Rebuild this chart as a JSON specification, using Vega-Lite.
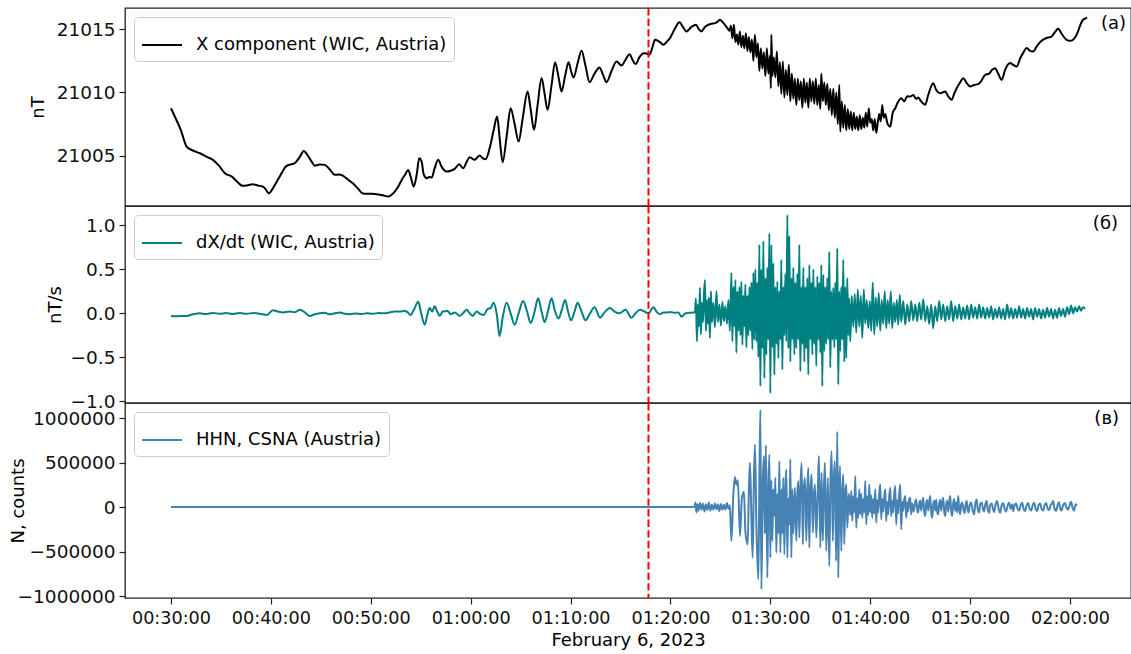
{
"$schema": "https://vega.github.io/schema/vega-lite/v6.json",
"background": "white",
"padding": {"left": 8, "top": 6, "right": 0, "bottom": 0},
"spacing": 0,
"bounds": "flush",
"datasets": {
"ev": [{"m": 77.8}],
"lab": [{"p": 1, "m": 125.6, "v": 21015.4, "t": "(а)"}, {"p": 2, "m": 124.8, "v": 1.02, "t": "(б)"}, {"p": 3, "m": 124.9, "v": 990000, "t": "(в)"}],
"p1": [
{"m":30.0,"v":21008.75},{"m":30.5,"v":21007.9},{"m":31.0,"v":21007.0},{"m":31.57,"v":21005.71},{"m":32.2,"v":21005.4},{"m":32.9,"v":21005.18},{"m":33.6,"v":21004.9},{"m":34.2,"v":21004.66},{"m":34.8,"v":21004.2},{"m":35.4,"v":21003.6},{"m":36.1,"v":21003.33},{"m":36.6,"v":21002.95},{"m":37.2,"v":21002.6},{"m":37.7,"v":21002.65},{"m":38.2,"v":21002.72},{"m":38.7,"v":21002.62},{"m":39.2,"v":21002.54},{"m":39.5,"v":21002.3},{"m":39.8,"v":21002.0},{"m":40.2,"v":21002.4},{"m":40.6,"v":21002.94},{"m":41.0,"v":21003.5},{"m":41.5,"v":21004.13},{"m":42.0,"v":21004.3},{"m":42.4,"v":21004.4},{"m":42.9,"v":21004.9},{"m":43.3,"v":21005.37},{"m":43.7,"v":21005.0},{"m":44.1,"v":21004.5},{"m":44.4,"v":21004.2},{"m":44.9,"v":21004.3},{"m":45.4,"v":21004.26},{"m":45.9,"v":21003.9},{"m":46.4,"v":21003.47},{"m":46.8,"v":21003.5},{"m":47.2,"v":21003.41},{"m":47.7,"v":21003.1},{"m":48.2,"v":21002.8},{"m":48.7,"v":21002.4},{"m":49.2,"v":21002.0},{"m":49.9,"v":21001.97},{"m":50.6,"v":21001.93},{"m":51.2,"v":21001.85},{"m":51.75,"v":21001.75},{"m":52.1,"v":21001.9},{"m":52.4,"v":21002.14},{"m":52.8,"v":21002.6},{"m":53.1,"v":21003.07},{"m":53.45,"v":21003.5},{"m":53.75,"v":21003.86},{"m":54.0,"v":21003.3},{"m":54.3,"v":21002.54},{"m":54.6,"v":21003.5},{"m":54.85,"v":21004.79},{"m":55.1,"v":21004.5},{"m":55.3,"v":21003.5},{"m":55.6,"v":21003.2},{"m":55.85,"v":21003.3},{"m":56.1,"v":21003.25},{"m":56.4,"v":21004.0},{"m":56.75,"v":21004.66},{"m":57.1,"v":21004.1},{"m":57.6,"v":21003.73},{"m":58.0,"v":21003.8},{"m":58.4,"v":21003.94},{"m":58.85,"v":21004.31},{"m":59.25,"v":21004.0},{"m":59.6,"v":21004.5},{"m":59.9,"v":21004.87},{"m":60.4,"v":21004.66},{"m":60.9,"v":21005.0},{"m":61.2,"v":21004.8},{"m":61.5,"v":21004.71},{"m":61.9,"v":21005.58},{"m":62.3,"v":21007.0},{"m":62.65,"v":21008.1},{"m":62.9,"v":21006.4},{"m":63.2,"v":21004.47},{"m":63.6,"v":21006.5},{"m":64.0,"v":21008.75},{"m":64.4,"v":21007.5},{"m":64.8,"v":21006.11},{"m":65.2,"v":21007.9},{"m":65.7,"v":21010.08},{"m":66.0,"v":21008.7},{"m":66.35,"v":21007.04},{"m":66.7,"v":21009.0},{"m":67.1,"v":21011.14},{"m":67.4,"v":21009.9},{"m":67.7,"v":21008.63},{"m":68.1,"v":21010.6},{"m":68.45,"v":21012.4},{"m":68.8,"v":21011.2},{"m":69.1,"v":21010.08},{"m":69.45,"v":21011.3},{"m":69.8,"v":21012.4},{"m":70.05,"v":21011.7},{"m":70.3,"v":21011.19},{"m":70.7,"v":21012.3},{"m":71.1,"v":21013.31},{"m":71.5,"v":21012.1},{"m":71.9,"v":21010.82},{"m":72.4,"v":21011.5},{"m":72.9,"v":21011.98},{"m":73.25,"v":21011.4},{"m":73.6,"v":21010.82},{"m":74.1,"v":21011.7},{"m":74.6,"v":21012.46},{"m":75.1,"v":21012.14},{"m":75.5,"v":21012.6},{"m":75.9,"v":21013.04},{"m":76.2,"v":21012.6},{"m":76.5,"v":21012.25},{"m":76.9,"v":21012.8},{"m":77.3,"v":21013.12},{"m":77.6,"v":21013.1},{"m":77.9,"v":21013.0},{"m":78.2,"v":21013.6},{"m":78.45,"v":21014.18},{"m":78.95,"v":21014.0},{"m":79.3,"v":21013.78},{"m":79.6,"v":21014.0},{"m":79.95,"v":21014.31},{"m":80.4,"v":21015.0},{"m":80.9,"v":21015.58},{"m":81.25,"v":21015.2},{"m":81.6,"v":21014.84},{"m":82.1,"v":21015.2},{"m":82.55,"v":21015.37},{"m":82.85,"v":21015.0},{"m":83.1,"v":21014.84},{"m":83.45,"v":21015.2},{"m":83.8,"v":21015.37},{"m":84.1,"v":21015.45},{"m":84.45,"v":21015.5},{"m":84.7,"v":21015.6},{"m":84.95,"v":21015.77},{"m":85.2,"v":21015.6},{"m":85.45,"v":21015.37},
{"m":85.7,"v":21015.1},{"m":85.9,"v":21014.9},{"m":86.05,"v":21015.3},{"m":86.2,"v":21014.3},{"m":86.35,"v":21015.37},{"m":86.5,"v":21014.0},{"m":86.65,"v":21014.6},{"m":86.8,"v":21013.8},{"m":86.95,"v":21014.84},{"m":87.1,"v":21013.6},{"m":87.25,"v":21014.5},{"m":87.4,"v":21013.5},{"m":87.55,"v":21014.7},{"m":87.7,"v":21013.3},{"m":87.85,"v":21014.4},{"m":88.0,"v":21013.2},{"m":88.15,"v":21014.2},{"m":88.3,"v":21012.5},{"m":88.45,"v":21014.58},{"m":88.6,"v":21012.8},{"m":88.75,"v":21013.9},{"m":88.9,"v":21011.7},{"m":89.05,"v":21013.5},{"m":89.2,"v":21011.9},{"m":89.35,"v":21013.2},{"m":89.5,"v":21011.3},{"m":89.65,"v":21013.5},{"m":89.8,"v":21011.5},{"m":89.95,"v":21012.9},{"m":90.05,"v":21010.34},{"m":90.1,"v":21014.58},{"m":90.2,"v":21011.3},{"m":90.35,"v":21012.8},{"m":90.5,"v":21011.2},{"m":90.65,"v":21013.25},{"m":90.8,"v":21010.5},{"m":90.95,"v":21012.4},{"m":91.1,"v":21009.9},{"m":91.25,"v":21012.46},{"m":91.4,"v":21009.6},{"m":91.55,"v":21011.8},{"m":91.7,"v":21009.8},{"m":91.85,"v":21012.2},{"m":92.0,"v":21009.3},{"m":92.15,"v":21011.5},{"m":92.3,"v":21009.5},{"m":92.45,"v":21011.1},{"m":92.6,"v":21009.0},{"m":92.75,"v":21011.1},{"m":92.9,"v":21009.4},{"m":93.05,"v":21010.9},{"m":93.2,"v":21008.8},{"m":93.35,"v":21011.1},{"m":93.5,"v":21009.2},{"m":93.65,"v":21010.8},{"m":93.8,"v":21008.8},{"m":93.95,"v":21011.1},{"m":94.1,"v":21009.3},{"m":94.25,"v":21010.9},{"m":94.4,"v":21009.1},{"m":94.55,"v":21011.1},{"m":94.7,"v":21009.0},{"m":94.85,"v":21010.6},{"m":95.0,"v":21008.7},{"m":95.1,"v":21011.5},{"m":95.25,"v":21009.3},{"m":95.4,"v":21010.8},{"m":95.55,"v":21009.0},{"m":95.7,"v":21010.7},{"m":95.85,"v":21008.6},{"m":96.0,"v":21010.3},{"m":96.15,"v":21008.2},{"m":96.3,"v":21010.3},{"m":96.45,"v":21008.0},{"m":96.6,"v":21010.0},{"m":96.75,"v":21007.5},{"m":96.9,"v":21010.6},{"m":97.0,"v":21006.9},{"m":97.15,"v":21009.3},{"m":97.3,"v":21007.2},{"m":97.45,"v":21009.0},{"m":97.6,"v":21007.0},{"m":97.75,"v":21008.7},{"m":97.9,"v":21007.1},{"m":98.05,"v":21008.5},{"m":98.2,"v":21007.0},{"m":98.35,"v":21008.4},{"m":98.5,"v":21007.1},{"m":98.65,"v":21008.1},{"m":98.8,"v":21007.0},{"m":98.95,"v":21008.2},{"m":99.1,"v":21007.1},{"m":99.25,"v":21008.0},{"m":99.4,"v":21007.2},{"m":99.55,"v":21008.4},{"m":99.7,"v":21007.3},{"m":99.85,"v":21008.75},{"m":100.0,"v":21007.6},{"m":100.15,"v":21007.9},{"m":100.3,"v":21007.0},{"m":100.45,"v":21007.9},{"m":100.6,"v":21006.8},{"m":100.75,"v":21007.6},{"m":100.9,"v":21008.3},{"m":101.05,"v":21007.7},{"m":101.2,"v":21009.0},{"m":101.35,"v":21008.0},{"m":101.5,"v":21008.3},{"m":101.7,"v":21007.6},{"m":102.0,"v":21007.3},
{"m":102.25,"v":21008.4},{"m":102.5,"v":21008.75},{"m":102.75,"v":21009.2},{"m":103.1,"v":21009.55},{"m":103.4,"v":21009.3},{"m":103.7,"v":21009.7},{"m":104.0,"v":21009.68},{"m":104.3,"v":21009.8},{"m":104.6,"v":21009.5},{"m":104.8,"v":21009.6},{"m":105.1,"v":21009.3},{"m":105.5,"v":21009.02},{"m":105.8,"v":21009.8},{"m":106.3,"v":21010.74},{"m":106.6,"v":21010.2},{"m":107.0,"v":21009.95},{"m":107.5,"v":21010.08},{"m":107.8,"v":21009.7},{"m":108.15,"v":21009.42},{"m":108.4,"v":21009.9},{"m":108.65,"v":21010.34},{"m":109.0,"v":21010.8},{"m":109.3,"v":21011.13},{"m":109.7,"v":21010.7},{"m":110.0,"v":21010.48},{"m":110.4,"v":21010.6},{"m":110.8,"v":21010.66},{"m":111.1,"v":21010.9},{"m":111.5,"v":21011.4},{"m":111.9,"v":21011.5},{"m":112.2,"v":21011.8},{"m":112.5,"v":21011.93},{"m":112.8,"v":21011.5},{"m":113.15,"v":21011.0},{"m":113.5,"v":21011.8},{"m":114.0,"v":21012.33},{"m":114.3,"v":21012.2},{"m":114.65,"v":21012.06},{"m":115.0,"v":21012.7},{"m":115.35,"v":21013.2},{"m":115.65,"v":21013.52},{"m":116.0,"v":21013.3},{"m":116.3,"v":21013.25},{"m":116.7,"v":21013.7},{"m":117.15,"v":21014.1},{"m":117.6,"v":21014.3},{"m":118.15,"v":21014.44},{"m":118.5,"v":21014.8},{"m":118.8,"v":21015.05},{"m":119.2,"v":21014.6},{"m":119.65,"v":21014.18},{"m":120.0,"v":21014.1},{"m":120.3,"v":21014.18},{"m":120.6,"v":21014.5},{"m":120.8,"v":21014.84},{"m":121.0,"v":21015.3},{"m":121.3,"v":21015.77},{"m":121.5,"v":21015.85},{"m":121.7,"v":21015.95}
],
"p2": [
{"m":30.0,"v":-0.03},{"m":30.5,"v":-0.035},{"m":31.0,"v":-0.03},{"m":31.6,"v":-0.03},{"m":32.2,"v":-0.012},{"m":32.9,"v":0.0},{"m":33.5,"v":-0.008},{"m":34.2,"v":0.004},{"m":34.9,"v":-0.006},{"m":35.5,"v":0.003},{"m":36.2,"v":-0.008},{"m":36.9,"v":0.002},{"m":37.6,"v":-0.006},{"m":38.3,"v":0.004},{"m":38.9,"v":-0.005},{"m":39.6,"v":-0.02},{"m":40.2,"v":0.035},{"m":40.7,"v":0.02},{"m":41.2,"v":0.01},{"m":41.9,"v":0.02},{"m":42.4,"v":0.012},{"m":42.9,"v":0.04},{"m":43.4,"v":0.01},{"m":43.9,"v":-0.03},{"m":44.4,"v":-0.01},{"m":44.9,"v":0.0},{"m":45.4,"v":0.005},{"m":45.9,"v":-0.012},{"m":46.4,"v":0.0},{"m":46.9,"v":0.01},{"m":47.4,"v":-0.005},{"m":47.9,"v":-0.01},{"m":48.5,"v":-0.002},{"m":49.1,"v":-0.008},{"m":49.6,"v":0.0},{"m":50.2,"v":-0.005},{"m":50.8,"v":0.003},{"m":51.3,"v":0.0},{"m":51.9,"v":0.01},{"m":52.4,"v":0.02},{"m":52.9,"v":0.02},{"m":53.4,"v":0.025},{"m":53.7,"v":0.01},{"m":54.0,"v":-0.02},{"m":54.35,"v":0.05},{"m":54.75,"v":0.13},{"m":55.05,"v":0.0},{"m":55.4,"v":-0.13},{"m":55.65,"v":-0.02},{"m":55.9,"v":0.06},{"m":56.15,"v":0.02},{"m":56.4,"v":0.08},{"m":56.65,"v":0.02},{"m":56.9,"v":-0.03},{"m":57.2,"v":0.02},{"m":57.7,"v":0.025},{"m":58.0,"v":-0.01},{"m":58.4,"v":0.01},{"m":58.9,"v":-0.03},{"m":59.3,"v":0.01},{"m":59.6,"v":0.04},{"m":59.9,"v":0.0},{"m":60.2,"v":-0.03},{"m":60.6,"v":0.02},{"m":61.0,"v":-0.01},{"m":61.3,"v":-0.02},{"m":61.7,"v":0.05},{"m":62.0,"v":0.06},{"m":62.3,"v":0.12},{"m":62.6,"v":0.0},{"m":62.9,"v":-0.26},{"m":63.2,"v":-0.05},{"m":63.6,"v":0.12},{"m":64.0,"v":0.0},{"m":64.4,"v":-0.13},{"m":64.8,"v":0.0},{"m":65.25,"v":0.14},{"m":65.65,"v":0.02},{"m":66.0,"v":-0.11},{"m":66.4,"v":0.02},{"m":66.75,"v":0.17},{"m":67.1,"v":0.02},{"m":67.4,"v":-0.1},{"m":67.75,"v":0.03},{"m":68.1,"v":0.17},{"m":68.45,"v":0.02},{"m":68.8,"v":-0.06},{"m":69.1,"v":0.03},{"m":69.45,"v":0.15},{"m":69.75,"v":0.02},{"m":70.05,"v":-0.08},{"m":70.4,"v":0.02},{"m":70.7,"v":0.12},{"m":71.1,"v":0.02},{"m":71.5,"v":-0.08},{"m":71.95,"v":0.0},{"m":72.4,"v":0.07},{"m":72.95,"v":-0.05},{"m":73.4,"v":0.01},{"m":73.95,"v":0.06},{"m":74.4,"v":0.02},{"m":74.9,"v":0.0},{"m":75.5,"v":0.04},{"m":76.1,"v":-0.05},{"m":76.5,"v":0.0},{"m":76.95,"v":0.04},{"m":77.4,"v":0.02},{"m":77.8,"v":0.0},{"m":78.3,"v":0.07},{"m":78.6,"v":0.02},{"m":78.95,"v":-0.01},{"m":79.3,"v":0.01},{"m":79.6,"v":0.01},{"m":80.0,"v":0.015},{"m":80.4,"v":0.005},{"m":80.8,"v":0.01},{"m":81.1,"v":-0.04},{"m":81.5,"v":0.0},{"m":81.9,"v":0.005},{"m":82.3,"v":0.01},
{"m":82.45,"v":0.01},{"m":82.55,"v":0.17},{"m":82.65,"v":-0.32},{"m":82.75,"v":0.1},{"m":82.85,"v":-0.15},{"m":82.95,"v":0.29},{"m":83.05,"v":-0.24},{"m":83.15,"v":0.12},{"m":83.25,"v":-0.1},{"m":83.35,"v":0.2},{"m":83.45,"v":0.38},{"m":83.55,"v":-0.2},{"m":83.65,"v":0.15},{"m":83.75,"v":-0.12},{"m":83.85,"v":0.18},{"m":83.95,"v":-0.28},{"m":84.05,"v":0.25},{"m":84.15,"v":-0.1},{"m":84.3,"v":0.12},{"m":84.45,"v":-0.16},{"m":84.6,"v":0.25},{"m":84.75,"v":-0.1},{"m":84.9,"v":0.1},{"m":85.05,"v":-0.14},{"m":85.2,"v":0.13},{"m":85.35,"v":-0.09},{"m":85.5,"v":0.08},{"m":85.65,"v":-0.12},{"m":85.8,"v":0.15},{"m":85.95,"v":-0.2},{"m":86.1,"v":0.46},{"m":86.2,"v":-0.32},{"m":86.3,"v":0.3},{"m":86.4,"v":-0.15},{"m":86.5,"v":0.38},{"m":86.6,"v":-0.45},{"m":86.7,"v":0.25},{"m":86.8,"v":-0.2},{"m":86.9,"v":0.3},{"m":87.0,"v":-0.25},{"m":87.1,"v":0.36},{"m":87.2,"v":-0.36},{"m":87.3,"v":0.2},{"m":87.4,"v":-0.15},{"m":87.5,"v":0.33},{"m":87.6,"v":-0.39},{"m":87.7,"v":0.2},{"m":87.8,"v":-0.25},{"m":87.9,"v":0.3},{"m":88.0,"v":-0.2},{"m":88.1,"v":0.35},{"m":88.2,"v":-0.41},{"m":88.3,"v":0.46},{"m":88.4,"v":-0.3},{"m":88.5,"v":0.5},{"m":88.6,"v":-0.32},{"m":88.7,"v":0.35},{"m":88.8,"v":-0.5},{"m":88.9,"v":0.78},{"m":89.0,"v":-0.83},{"m":89.1,"v":0.5},{"m":89.2,"v":-0.4},{"m":89.3,"v":0.82},{"m":89.4,"v":-0.74},{"m":89.5,"v":0.4},{"m":89.6,"v":-0.47},{"m":89.7,"v":0.52},{"m":89.8,"v":-0.3},{"m":89.9,"v":0.91},{"m":90.0,"v":-0.91},{"m":90.1,"v":0.78},{"m":90.2,"v":-0.39},{"m":90.3,"v":0.57},{"m":90.4,"v":-0.7},{"m":90.5,"v":0.3},{"m":90.6,"v":-0.35},{"m":90.7,"v":0.36},{"m":90.8,"v":-0.51},{"m":90.9,"v":0.25},{"m":91.0,"v":-0.3},{"m":91.1,"v":0.61},{"m":91.2,"v":-0.64},{"m":91.3,"v":0.3},{"m":91.4,"v":-0.25},{"m":91.5,"v":0.45},{"m":91.6,"v":-0.32},{"m":91.7,"v":1.12},{"m":91.8,"v":-0.4},{"m":91.9,"v":0.88},{"m":92.0,"v":-0.55},{"m":92.1,"v":0.4},{"m":92.2,"v":-0.3},{"m":92.3,"v":0.52},{"m":92.4,"v":-0.47},{"m":92.5,"v":0.35},{"m":92.6,"v":-0.4},{"m":92.7,"v":0.45},{"m":92.8,"v":-0.3},{"m":92.9,"v":0.78},{"m":93.0,"v":-0.66},{"m":93.1,"v":0.3},{"m":93.2,"v":-0.35},{"m":93.3,"v":0.52},{"m":93.4,"v":-0.55},{"m":93.5,"v":0.3},{"m":93.6,"v":-0.4},{"m":93.7,"v":0.4},{"m":93.8,"v":-0.7},{"m":93.9,"v":0.55},{"m":94.0,"v":-0.3},{"m":94.1,"v":0.35},{"m":94.2,"v":-0.47},{"m":94.3,"v":0.5},{"m":94.4,"v":-0.35},{"m":94.5,"v":0.3},{"m":94.6,"v":-0.6},{"m":94.7,"v":0.42},{"m":94.8,"v":-0.3},{"m":94.9,"v":0.35},{"m":95.0,"v":-0.45},{"m":95.1,"v":0.55},{"m":95.2,"v":-0.83},{"m":95.3,"v":0.44},{"m":95.4,"v":-0.43},{"m":95.5,"v":0.3},{"m":95.6,"v":-0.35},{"m":95.7,"v":0.4},{"m":95.8,"v":-0.3},{"m":95.9,"v":0.7},{"m":96.0,"v":-0.62},{"m":96.1,"v":0.25},{"m":96.2,"v":-0.3},{"m":96.3,"v":0.29},{"m":96.4,"v":-0.39},{"m":96.5,"v":0.35},{"m":96.6,"v":-0.3},{"m":96.7,"v":0.74},{"m":96.8,"v":-0.81},{"m":96.9,"v":0.25},{"m":97.0,"v":-0.43},{"m":97.1,"v":0.3},{"m":97.2,"v":-0.3},{"m":97.3,"v":0.61},{"m":97.4,"v":-0.55},{"m":97.5,"v":0.3},{"m":97.6,"v":-0.51},{"m":97.7,"v":0.4},{"m":97.8,"v":-0.25},{"m":97.9,"v":0.17},{"m":98.0,"v":-0.32},{"m":98.15,"v":0.2},{"m":98.3,"v":-0.15},{"m":98.45,"v":0.22},{"m":98.6,"v":-0.22},{"m":98.75,"v":0.27},{"m":98.9,"v":-0.15},{"m":99.05,"v":0.2},{"m":99.2,"v":-0.28},{"m":99.35,"v":0.27},{"m":99.5,"v":-0.12},{"m":99.65,"v":0.15},{"m":99.8,"v":-0.17},{"m":99.95,"v":0.14},{"m":100.1,"v":-0.2},{"m":100.25,"v":0.35},{"m":100.4,"v":-0.24},{"m":100.55,"v":0.18},{"m":100.7,"v":-0.15},{"m":100.85,"v":0.23},{"m":101.0,"v":-0.2},{"m":101.15,"v":0.15},{"m":101.3,"v":-0.12},{"m":101.45,"v":0.25},{"m":101.6,"v":-0.17},{"m":101.75,"v":0.15},{"m":101.9,"v":-0.12},{"m":102.05,"v":0.25},{"m":102.2,"v":-0.17},{"m":102.35,"v":0.12},{"m":102.5,"v":-0.1},{"m":102.65,"v":0.15},{"m":102.8,"v":-0.13},{"m":102.95,"v":0.21},{"m":103.1,"v":-0.1},{"m":103.3,"v":0.14},{"m":103.5,"v":-0.13},{"m":103.7,"v":0.1},{"m":103.9,"v":-0.09},{"m":104.1,"v":0.14},{"m":104.3,"v":-0.08},{"m":104.5,"v":0.1},{"m":104.7,"v":-0.09},{"m":104.9,"v":0.12},{"m":105.1,"v":-0.07},{"m":105.3,"v":0.16},{"m":105.5,"v":-0.09},{"m":105.7,"v":0.08},{"m":105.9,"v":-0.12},{"m":106.1,"v":0.1},{"m":106.3,"v":-0.17},{"m":106.5,"v":0.08},{"m":106.7,"v":-0.09},{"m":106.9,"v":0.14},{"m":107.1,"v":-0.07},{"m":107.3,"v":0.1},{"m":107.5,"v":-0.09},{"m":107.7,"v":0.08},{"m":107.9,"v":-0.07},{"m":108.1,"v":0.14},{"m":108.3,"v":-0.09},{"m":108.5,"v":0.08},{"m":108.7,"v":-0.06},{"m":108.9,"v":0.1},{"m":109.1,"v":-0.07},{"m":109.3,"v":0.07},{"m":109.5,"v":-0.06},{"m":109.7,"v":0.09},{"m":109.9,"v":-0.07},{"m":110.1,"v":0.1},{"m":110.3,"v":-0.05},{"m":110.5,"v":0.07},{"m":110.7,"v":-0.06},{"m":110.9,"v":0.1},{"m":111.1,"v":-0.05},{"m":111.3,"v":0.07},{"m":111.5,"v":-0.06},{"m":111.7,"v":0.06},{"m":111.9,"v":-0.05},{"m":112.1,"v":0.08},{"m":112.3,"v":-0.07},{"m":112.5,"v":0.05},{"m":112.7,"v":-0.05},{"m":112.9,"v":0.07},{"m":113.1,"v":-0.06},{"m":113.3,"v":0.05},{"m":113.5,"v":-0.07},{"m":113.7,"v":0.1},{"m":113.9,"v":-0.05},{"m":114.1,"v":0.06},{"m":114.3,"v":-0.06},{"m":114.5,"v":0.05},{"m":114.7,"v":-0.05},{"m":114.9,"v":0.08},{"m":115.1,"v":-0.05},{"m":115.3,"v":0.05},{"m":115.5,"v":-0.06},{"m":115.7,"v":0.06},{"m":115.9,"v":-0.04},{"m":116.1,"v":0.05},{"m":116.3,"v":-0.07},{"m":116.5,"v":0.06},{"m":116.7,"v":-0.04},{"m":116.9,"v":0.05},{"m":117.1,"v":-0.06},{"m":117.3,"v":0.04},{"m":117.5,"v":-0.05},{"m":117.7,"v":0.06},{"m":117.9,"v":-0.04},{"m":118.1,"v":0.05},{"m":118.3,"v":-0.06},{"m":118.5,"v":0.04},{"m":118.7,"v":-0.05},{"m":118.9,"v":0.06},{"m":119.1,"v":-0.03},{"m":119.3,"v":0.05},{"m":119.5,"v":-0.04},{"m":119.7,"v":0.07},{"m":119.9,"v":-0.01},{"m":120.1,"v":0.09},{"m":120.3,"v":0.0},{"m":120.5,"v":0.07},{"m":120.7,"v":0.02},{"m":120.9,"v":0.08},{"m":121.1,"v":0.03},{"m":121.3,"v":0.07},{"m":121.5,"v":0.05}
],
"p3": [
{"m":30.0,"v":0},{"m":82.4,"v":0},{"m":82.5,"v":50000},{"m":82.6,"v":-60000},{"m":82.7,"v":30000},{"m":82.8,"v":-40000},{"m":82.95,"v":45000},{"m":83.1,"v":-30000},{"m":83.25,"v":40000},{"m":83.4,"v":-50000},{"m":83.55,"v":30000},{"m":83.7,"v":-35000},{"m":83.85,"v":50000},{"m":84.0,"v":-40000},{"m":84.15,"v":25000},{"m":84.3,"v":-30000},{"m":84.45,"v":40000},{"m":84.6,"v":-25000},{"m":84.75,"v":30000},{"m":84.9,"v":-45000},{"m":85.05,"v":35000},{"m":85.2,"v":-30000},{"m":85.35,"v":25000},{"m":85.5,"v":-30000},{"m":85.65,"v":45000},{"m":85.8,"v":-20000},{"m":85.95,"v":20000},{"m":86.1,"v":-382000},{"m":86.3,"v":150000},{"m":86.45,"v":337000},{"m":86.6,"v":250000},{"m":86.75,"v":300000},{"m":86.96,"v":-326000},{"m":87.15,"v":100000},{"m":87.36,"v":172000},{"m":87.5,"v":-280000},{"m":87.73,"v":-420000},{"m":87.85,"v":200000},{"m":87.96,"v":498000},{"m":88.1,"v":-100000},{"m":88.23,"v":-570000},{"m":88.35,"v":300000},{"m":88.46,"v":704000},{"m":88.6,"v":-200000},{"m":88.8,"v":-813000},{"m":88.9,"v":300000},{"m":89.0,"v":1090000},{"m":89.1,"v":-925000},{"m":89.25,"v":300000},{"m":89.36,"v":573000},{"m":89.45,"v":-300000},{"m":89.55,"v":693000},{"m":89.7,"v":-794000},{"m":89.8,"v":200000},{"m":89.9,"v":590000},{"m":90.0,"v":-569000},{"m":90.1,"v":300000},{"m":90.2,"v":-382000},{"m":90.3,"v":200000},{"m":90.4,"v":-100000},{"m":90.5,"v":330000},{"m":90.6,"v":-513000},{"m":90.7,"v":150000},{"m":90.8,"v":-300000},{"m":90.9,"v":517000},{"m":91.0,"v":-513000},{"m":91.1,"v":200000},{"m":91.2,"v":-300000},{"m":91.3,"v":330000},{"m":91.4,"v":-532000},{"m":91.5,"v":200000},{"m":91.6,"v":423000},{"m":91.7,"v":-569000},{"m":91.8,"v":100000},{"m":91.9,"v":-200000},{"m":92.0,"v":536000},{"m":92.1,"v":-569000},{"m":92.2,"v":200000},{"m":92.3,"v":-300000},{"m":92.45,"v":217000},{"m":92.6,"v":-382000},{"m":92.7,"v":150000},{"m":92.8,"v":292000},{"m":92.9,"v":-345000},{"m":93.0,"v":200000},{"m":93.13,"v":498000},{"m":93.25,"v":-420000},{"m":93.35,"v":200000},{"m":93.46,"v":330000},{"m":93.6,"v":-382000},{"m":93.7,"v":200000},{"m":93.8,"v":442000},{"m":93.9,"v":-457000},{"m":94.0,"v":150000},{"m":94.13,"v":367000},{"m":94.25,"v":-288000},{"m":94.35,"v":100000},{"m":94.46,"v":255000},{"m":94.6,"v":-345000},{"m":94.75,"v":200000},{"m":94.86,"v":573000},{"m":95.0,"v":-457000},{"m":95.13,"v":386000},{"m":95.25,"v":-382000},{"m":95.35,"v":150000},{"m":95.46,"v":498000},{"m":95.6,"v":-494000},{"m":95.75,"v":330000},{"m":95.9,"v":-663000},{"m":96.0,"v":200000},{"m":96.13,"v":629000},{"m":96.25,"v":-382000},{"m":96.35,"v":300000},{"m":96.46,"v":517000},{"m":96.58,"v":-607000},{"m":96.7,"v":846000},{"m":96.8,"v":-794000},{"m":96.9,"v":200000},{"m":96.97,"v":461000},{"m":97.1,"v":-494000},{"m":97.2,"v":150000},{"m":97.3,"v":367000},{"m":97.4,"v":-420000},{"m":97.5,"v":150000},{"m":97.6,"v":255000},
{"m":97.7,"v":-232000},{"m":97.85,"v":150000},{"m":98.0,"v":-90000},{"m":98.1,"v":180000},{"m":98.2,"v":-157000},{"m":98.3,"v":120000},{"m":98.4,"v":-60000},{"m":98.5,"v":348000},{"m":98.6,"v":-232000},{"m":98.7,"v":100000},{"m":98.8,"v":-120000},{"m":98.9,"v":199000},{"m":99.0,"v":-80000},{"m":99.1,"v":150000},{"m":99.2,"v":-120000},{"m":99.3,"v":90000},{"m":99.4,"v":-60000},{"m":99.5,"v":292000},{"m":99.6,"v":-195000},{"m":99.7,"v":120000},{"m":99.8,"v":-90000},{"m":99.9,"v":255000},{"m":100.0,"v":-60000},{"m":100.1,"v":130000},{"m":100.2,"v":-120000},{"m":100.3,"v":90000},{"m":100.4,"v":-70000},{"m":100.5,"v":199000},{"m":100.6,"v":-176000},{"m":100.7,"v":80000},{"m":100.8,"v":-60000},{"m":100.9,"v":150000},{"m":101.0,"v":255000},{"m":101.1,"v":-138000},{"m":101.2,"v":90000},{"m":101.3,"v":-50000},{"m":101.4,"v":120000},{"m":101.5,"v":199000},{"m":101.6,"v":-157000},{"m":101.7,"v":60000},{"m":101.8,"v":-80000},{"m":101.9,"v":120000},{"m":102.0,"v":217000},{"m":102.1,"v":-101000},{"m":102.2,"v":70000},{"m":102.3,"v":-60000},{"m":102.4,"v":150000},{"m":102.5,"v":236000},{"m":102.6,"v":-195000},{"m":102.7,"v":80000},{"m":102.8,"v":-70000},{"m":102.9,"v":150000},{"m":103.0,"v":255000},{"m":103.1,"v":-251000},{"m":103.2,"v":60000},{"m":103.3,"v":-40000},{"m":103.4,"v":80000},{"m":103.5,"v":124000},{"m":103.6,"v":-120000},{"m":103.7,"v":50000},{"m":103.8,"v":-50000},{"m":103.9,"v":90000},{"m":104.0,"v":105000},{"m":104.1,"v":-82000},{"m":104.2,"v":40000},{"m":104.35,"v":-50000},{"m":104.5,"v":60000},{"m":104.6,"v":86000},{"m":104.7,"v":-30000},{"m":104.8,"v":-64000},{"m":104.9,"v":40000},{"m":105.0,"v":70000},{"m":105.1,"v":-40000},{"m":105.2,"v":50000},{"m":105.3,"v":105000},{"m":105.4,"v":-50000},{"m":105.5,"v":-101000},{"m":105.6,"v":40000},{"m":105.7,"v":80000},{"m":105.8,"v":-40000},{"m":105.9,"v":50000},{"m":106.0,"v":124000},{"m":106.1,"v":-60000},{"m":106.2,"v":-120000},{"m":106.3,"v":30000},{"m":106.4,"v":70000},{"m":106.5,"v":-40000},{"m":106.6,"v":86000},{"m":106.7,"v":-50000},{"m":106.8,"v":-82000},{"m":106.9,"v":40000},{"m":107.0,"v":80000},{"m":107.1,"v":-40000},{"m":107.2,"v":60000},{"m":107.3,"v":105000},{"m":107.4,"v":-50000},{"m":107.5,"v":-101000},{"m":107.6,"v":30000},{"m":107.7,"v":70000},{"m":107.8,"v":-50000},{"m":107.9,"v":60000},{"m":108.0,"v":124000},{"m":108.1,"v":-50000},{"m":108.2,"v":-101000},{"m":108.3,"v":40000},{"m":108.4,"v":90000},{"m":108.5,"v":-40000},{"m":108.6,"v":50000},{"m":108.7,"v":-60000},{"m":108.8,"v":124000},{"m":108.9,"v":-30000},{"m":109.0,"v":-82000},{"m":109.1,"v":30000},{"m":109.2,"v":50000},{"m":109.35,"v":-40000},{"m":109.45,"v":-70000},{"m":109.55,"v":30000},{"m":109.65,"v":67000},{"m":109.75,"v":-30000},{"m":109.85,"v":-60000},{"m":109.95,"v":20000},{"m":110.1,"v":50000},{"m":110.25,"v":-40000},{"m":110.4,"v":-82000},{"m":110.5,"v":30000},{"m":110.65,"v":86000},{"m":110.75,"v":-20000},{"m":110.9,"v":-60000},{"m":111.0,"v":30000},{"m":111.15,"v":50000},{"m":111.3,"v":-30000},{"m":111.4,"v":-50000},{"m":111.5,"v":20000},{"m":111.65,"v":67000},{"m":111.75,"v":-20000},{"m":111.9,"v":-64000},{"m":112.0,"v":20000},{"m":112.15,"v":40000},{"m":112.3,"v":-30000},{"m":112.4,"v":-55000},{"m":112.55,"v":30000},{"m":112.7,"v":67000},{"m":112.85,"v":-20000},{"m":113.0,"v":-64000},{"m":113.15,"v":20000},{"m":113.3,"v":45000},{"m":113.45,"v":-20000},{"m":113.6,"v":-50000},{"m":113.75,"v":20000},{"m":113.9,"v":48000},{"m":114.05,"v":-20000},{"m":114.2,"v":30000},{"m":114.3,"v":-45000},{"m":114.45,"v":20000},{"m":114.6,"v":40000},{"m":114.75,"v":-20000},{"m":114.9,"v":-40000},{"m":115.05,"v":20000},{"m":115.2,"v":48000},{"m":115.35,"v":-20000},{"m":115.5,"v":-45000},{"m":115.65,"v":20000},{"m":115.8,"v":45000},{"m":115.95,"v":-20000},{"m":116.1,"v":-40000},{"m":116.25,"v":20000},{"m":116.4,"v":48000},{"m":116.55,"v":-20000},{"m":116.7,"v":-45000},{"m":116.85,"v":20000},{"m":117.0,"v":40000},{"m":117.15,"v":-20000},{"m":117.3,"v":-40000},{"m":117.45,"v":20000},{"m":117.6,"v":45000},{"m":117.75,"v":-15000},{"m":117.9,"v":-35000},{"m":118.05,"v":20000},{"m":118.2,"v":40000},{"m":118.3,"v":67000},{"m":118.45,"v":-20000},{"m":118.6,"v":-45000},{"m":118.75,"v":20000},{"m":118.9,"v":55000},{"m":119.0,"v":-10000},{"m":119.15,"v":-40000},{"m":119.3,"v":20000},{"m":119.5,"v":45000},{"m":119.65,"v":-10000},{"m":119.8,"v":-30000},{"m":119.95,"v":20000},{"m":120.1,"v":60000},{"m":120.25,"v":-10000},{"m":120.4,"v":-40000},{"m":120.55,"v":30000},{"m":120.7,"v":20000}
]
},
"vconcat": [
{
"width": 1006, "height": 198,
"encoding": {"x": {"field": "m", "type": "quantitative", "scale": {"domain": [25.4, 126.1], "nice": false, "zero": false}, "axis": null}},
"layer": [
{"data": {"name": "p1"}, "mark": {"type": "line", "strokeWidth": 2, "interpolate": "monotone", "clip": true},
 "encoding": {
  "y": {"field": "v", "type": "quantitative", "scale": {"domain": [21001.0, 21016.7], "nice": false, "zero": false}, "axis": {"values": [21005, 21010, 21015], "format": "d", "title": "nT", "titleX": -87}},
  "color": {"datum": "X component (WIC, Austria)", "type": "nominal", "scale": {"range": ["#000000"]}, "legend": {"title": null, "orient": "top-left", "offset": 9, "padding": 7, "fillColor": "white", "strokeColor": "#cccccc", "cornerRadius": 4, "symbolType": "stroke", "symbolSize": 1600, "symbolStrokeWidth": 2, "labelFontSize": 18, "labelColor": "#000000", "labelOffset": 13, "labelLimit": 500}}}},
{"data": {"name": "ev"}, "mark": {"type": "rule", "color": "#ff0000", "strokeDash": [7.4, 3.2], "strokeWidth": 2}, "encoding": {}},
{"data": {"name": "lab"}, "transform": [{"filter": "datum.p == 1"}], "mark": {"type": "text", "align": "right", "baseline": "middle", "fontSize": 18, "color": "#000000"},
 "encoding": {"y": {"field": "v", "type": "quantitative"}, "text": {"field": "t"}}}
]
},
{
"width": 1006, "height": 197,
"encoding": {"x": {"field": "m", "type": "quantitative", "scale": {"domain": [25.4, 126.1], "nice": false, "zero": false}, "axis": null}},
"layer": [
{"data": {"name": "p2"}, "mark": {"type": "line", "strokeWidth": 2, "interpolate": "monotone", "clip": true},
 "encoding": {
  "y": {"field": "v", "type": "quantitative", "scale": {"domain": [-1.02, 1.22], "nice": false, "zero": false}, "axis": {"values": [-1, -0.5, 0, 0.5, 1], "format": ".1f", "title": "nT/s", "titleX": -70}},
  "color": {"datum": "dX/dt (WIC, Austria)", "type": "nominal", "scale": {"range": ["#008080"]}, "legend": {"title": null, "orient": "top-left", "offset": 9, "padding": 7, "fillColor": "white", "strokeColor": "#cccccc", "cornerRadius": 4, "symbolType": "stroke", "symbolSize": 1600, "symbolStrokeWidth": 2, "labelFontSize": 18, "labelColor": "#000000", "labelOffset": 13, "labelLimit": 500}}}},
{"data": {"name": "ev"}, "mark": {"type": "rule", "color": "#ff0000", "strokeDash": [7.4, 3.2], "strokeWidth": 2}, "encoding": {}},
{"data": {"name": "lab"}, "transform": [{"filter": "datum.p == 2"}], "mark": {"type": "text", "align": "right", "baseline": "middle", "fontSize": 18, "color": "#000000"},
 "encoding": {"y": {"field": "v", "type": "quantitative"}, "text": {"field": "t"}}}
]
},
{
"width": 1006, "height": 195,
"encoding": {"x": {"field": "m", "type": "quantitative", "scale": {"domain": [25.4, 126.1], "nice": false, "zero": false},
  "axis": {"values": [30, 40, 50, 60, 70, 80, 90, 100, 110, 120], "labelExpr": "pad('' + floor(datum.value / 60), 2, '0', 'left') + ':' + pad('' + (datum.value % 60), 2, '0', 'left') + ':00'", "title": "February 6, 2023", "labelFontSize": 17.6, "labelPadding": 5, "titlePadding": 5, "domain": false, "labelFlush": false}}},
"layer": [
{"data": {"name": "p3"}, "mark": {"type": "line", "strokeWidth": 2, "interpolate": "monotone", "clip": true},
 "encoding": {
  "y": {"field": "v", "type": "quantitative", "scale": {"domain": [-1022000, 1169000], "nice": false, "zero": false}, "axis": {"values": [-1000000, -500000, 0, 500000, 1000000], "format": "d", "title": "N, counts", "titleX": -107}},
  "color": {"datum": "HHN, CSNA (Austria)", "type": "nominal", "scale": {"range": ["#4682b4"]}, "legend": {"title": null, "orient": "top-left", "offset": 9, "padding": 7, "fillColor": "white", "strokeColor": "#cccccc", "cornerRadius": 4, "symbolType": "stroke", "symbolSize": 1600, "symbolStrokeWidth": 2, "labelFontSize": 18, "labelColor": "#000000", "labelOffset": 13, "labelLimit": 500}}}},
{"data": {"name": "ev"}, "mark": {"type": "rule", "color": "#ff0000", "strokeDash": [7.4, 3.2], "strokeWidth": 2}, "encoding": {}},
{"data": {"name": "lab"}, "transform": [{"filter": "datum.p == 3"}], "mark": {"type": "text", "align": "right", "baseline": "middle", "fontSize": 18, "color": "#000000"},
 "encoding": {"y": {"field": "v", "type": "quantitative"}, "text": {"field": "t"}}}
]
}
],
"resolve": {"scale": {"color": "independent", "y": "independent"}, "legend": {"color": "independent"}},
"config": {
"font": "DejaVu Sans",
"view": {"stroke": "#222222", "strokeWidth": 1.3},
"axis": {"grid": false, "domain": false, "ticks": true, "tickSize": 6, "tickColor": "#222222", "tickWidth": 1.2, "labelFontSize": 18.5, "labelColor": "#111111", "labelPadding": 4, "titleFontSize": 18, "titleFontWeight": "normal", "titleColor": "#000000"},
"axisY": {"titleBaseline": "middle"}
}
}
